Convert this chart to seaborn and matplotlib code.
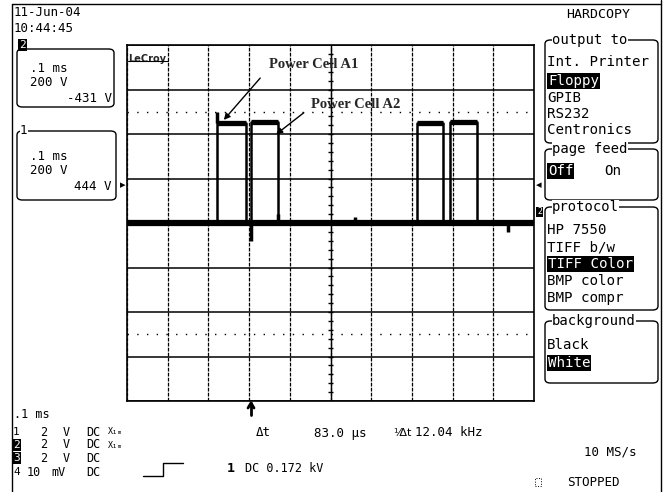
import numpy as np
import matplotlib
matplotlib.use("Agg")
import matplotlib.pyplot as plt
import seaborn as sns
from matplotlib.patches import FancyBboxPatch, Rectangle
from matplotlib.lines import Line2D

# scope trace, time in ms, volts (200 V/div, 0.1 ms/div)
rise_ms = [0.221, 0.305, 0.713, 0.794]
fall_ms = [0.292, 0.371, 0.776, 0.860]
level_v = [450, 452, 450, 452]
baseline_v = 0
glitch_ms = [0.221, 0.305, 0.372, 0.560, 0.936]
glitch_lo = [450, -80, 0, 0, -40]
glitch_hi = [500, 0, 40, 25, 0]
half_div_v = [500, -500]

sns.set_style("white")
plt.rcParams['font.family'] = ['DejaVu Sans Mono', 'DejaVu Sans']

W, H = 672, 492
fig = plt.figure(figsize=(6.72, 4.92), dpi=100)

def fx(x):
    return x / W

def fy(y):
    return 1 - y / H

ax = fig.add_axes([fx(127), fy(401), (534 - 127) / W, (401 - 45) / H])

t = [0.0]
v = [baseline_v]
for r, f, lv in zip(rise_ms, fall_ms, level_v):
    t += [r, r, f, f]
    v += [baseline_v, lv, lv, baseline_v]
t.append(1.0)
v.append(baseline_v)

sns.lineplot(x=t, y=v, sort=False, estimator=None, color='black', lw=1.8, ax=ax)
# noisy plateaus and baseline drawn heavier
ax.hlines(level_v, rise_ms, fall_ms, color='black', lw=3.8)
ax.hlines(baseline_v, 0, 1.0, color='black', lw=4.5)
ax.vlines(glitch_ms, glitch_lo, glitch_hi, color='black', lw=2.5)

ax.set_xlim(0, 1.0)
ax.set_ylim(-800, 800)
ax.set_xticks(np.arange(0, 1.001, 0.1))
ax.set_yticks(np.arange(-800, 801, 200))
ax.tick_params(length=0, labelbottom=False, labelleft=False)
ax.xaxis.grid(True, color='black', lw=0.9, ls=(0, (3, 1)))
ax.yaxis.grid(True, color='black', lw=1.1)
for s in ax.spines.values():
    s.set_color('black')
    s.set_linewidth(1.2)
for yv in half_div_v:
    ax.axhline(yv, color='black', lw=1.0, ls=(0, (1, 6)))
# center axis ticks
ax.axvline(0.5, color='black', lw=1.0)
ax.hlines(np.arange(-760, 800, 40), 0.493, 0.507, color='black', lw=1.0)
ax.vlines(np.arange(0.02, 1.0, 0.02), -10, 10, color='black', lw=1.0)
ax.set_xlabel('')
ax.set_ylabel('')

ax.text(0.003, 0.975, 'LeCroy', transform=ax.transAxes, fontsize=7,
        fontweight='bold', family='DejaVu Sans', va='top', ha='left')
fig.add_artist(Line2D([fx(128), fx(168)], [fy(61), fy(61)], color='black', lw=0.8))

# annotations
serif = dict(family='Liberation Serif', fontweight='bold', fontsize=10.5)
ax.text(fx(314), fy(65), 'Power Cell A1', transform=fig.transFigure, ha='center', va='center', **serif)
ax.annotate('', xy=(222, H - 122), xycoords='figure pixels',
            xytext=(262, H - 76), textcoords='figure pixels',
            arrowprops=dict(arrowstyle='-|>', color='black', lw=1.0, mutation_scale=9))
ax.text(fx(356), fy(104), 'Power Cell A2', transform=fig.transFigure, ha='center', va='center', **serif)
ax.annotate('', xy=(274, H - 136), xycoords='figure pixels',
            xytext=(306, H - 111), textcoords='figure pixels',
            arrowprops=dict(arrowstyle='-|>', color='black', lw=1.0, mutation_scale=9))

# frame
for xs, ys in [([12, 12], [4, 492]), ([12, 661], [4, 4]), ([661, 661], [0, 492])]:
    fig.add_artist(Line2D([fx(a) for a in xs], [fy(b) for b in ys], color='black', lw=1.0))

def txt(x, y, s, size=9, ha='left', inv=False, **kw):
    if inv:
        fig.text(fx(x), fy(y), s, fontsize=size, ha=ha, va='center', color='white',
                 bbox=dict(fc='black', ec='none', pad=0.6), **kw)
    else:
        fig.text(fx(x), fy(y), s, fontsize=size, ha=ha, va='center', color='black', **kw)

def box(x0, y0, x1, y1):
    fig.add_artist(FancyBboxPatch((fx(x0), fy(y1)), fx(x1 - x0), (y1 - y0) / H,
                                  boxstyle='round,pad=0,rounding_size=0.008',
                                  transform=fig.transFigure, fc='none', ec='black', lw=1.0))

def titled(x, y, s, size=10):
    fig.text(fx(x), fy(y), s, fontsize=size, ha='left', va='center', color='black',
             bbox=dict(fc='white', ec='none', pad=0.3))

# top left
txt(14, 12, '11-Jun-04', 9)
txt(14, 28, '10:44:45', 9)

# channel boxes
box(17, 49, 114, 107)
txt(19, 45, '2', 8, inv=True)
txt(30, 68, '.1 ms', 9)
txt(30, 83, '200 V', 9)
txt(112, 98, '-431 V', 9, ha='right')
box(17, 131, 116, 200)
titled(20, 131, '1', 9)
txt(30, 156, '.1 ms', 9)
txt(30, 171, '200 V', 9)
txt(112, 186, '444 V', 9, ha='right')
txt(120, 185, '\u25b8', 8, family='DejaVu Sans')
txt(536, 185, '\u25c2', 8, family='DejaVu Sans')
txt(537, 212, '2', 6, inv=True)

# right menu
rs = 10.2
txt(598, 15, 'HARDCOPY', 9.5, ha='center')
box(545, 40, 658, 143)
titled(552, 40, 'output to')
txt(547, 62, 'Int. Printer', rs)
txt(548, 81, 'Floppy', rs, inv=True)
txt(547, 98, 'GPIB', rs)
txt(547, 114, 'RS232', rs)
txt(547, 130, 'Centronics', rs)
box(545, 149, 658, 200)
titled(552, 149, 'page feed')
txt(548, 171, 'Off', rs, inv=True)
txt(604, 171, 'On', rs)
box(545, 207, 658, 310)
titled(552, 207, 'protocol')
txt(547, 230, 'HP 7550', rs)
txt(547, 247, 'TIFF b/w', rs)
txt(548, 264, 'TIFF Color', rs, inv=True)
txt(547, 281, 'BMP color', rs)
txt(547, 298, 'BMP compr', rs)
box(545, 321, 658, 383)
titled(552, 321, 'background')
txt(547, 345, 'Black', rs)
txt(548, 363, 'White', rs, inv=True)

# bottom status
fig.add_artist(Line2D([fx(251), fx(251)], [fy(403), fy(415)], color='black', lw=2.0))
fig.add_artist(Line2D([fx(248), fx(251), fx(254)], [fy(408), fy(403), fy(408)], color='black', lw=2.0))
txt(14, 414, '.1 ms', 8.5)
rows = [432, 445, 458, 472]
ch_labels = ['1', '2', '3', '4']
ch_volts = ['2', '2', '2', '10']
for i, y in enumerate(rows):
    txt(13, y, ch_labels[i], 8, inv=(i in (1, 2)))
    if i < 3:
        txt(40, y, ch_volts[i], 8.5)
        txt(63, y, 'V', 8.5)
    else:
        txt(27, y, ch_volts[i], 8.5)
        txt(58, y, 'mV', 8.5, ha='center')
    txt(86, y, 'DC', 8.5)
    if i < 2:
        txt(108, y, 'X\u2081\u2098', 6)
fig.add_artist(Line2D([fx(143), fx(163), fx(163), fx(183)],
                      [fy(476), fy(476), fy(463), fy(463)], color='black', lw=1.0))
txt(227, 468, '1', 9.5, fontweight='bold')
txt(245, 468, 'DC 0.172 kV', 8.5)
txt(256, 433, '\u0394t', 9)
txt(314, 433, '83.0 \u00b5s', 9)
txt(393, 433, '\u215f\u0394t', 8, family='DejaVu Sans')
txt(415, 433, '12.04 kHz', 9)
txt(584, 452, '10 MS/s', 9)
fig.add_artist(Rectangle((fx(535), fy(486)), fx(6), 8 / H, transform=fig.transFigure,
                         fc='none', ec='black', lw=0.7, ls=':'))
txt(567, 482, 'STOPPED', 9)

fig.savefig('out.png', dpi=100, facecolor='white')
